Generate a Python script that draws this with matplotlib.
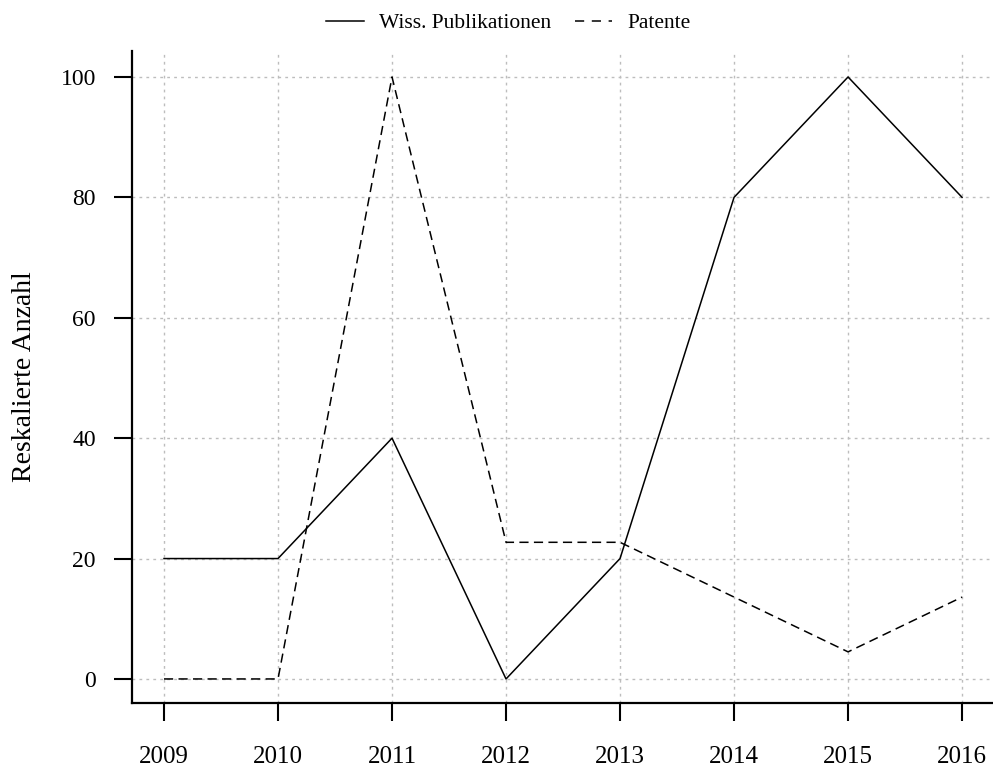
import matplotlib.pyplot as plt
from matplotlib.lines import Line2D

# data
years = [2009, 2010, 2011, 2012, 2013, 2014, 2015, 2016]
publikationen = [20, 20, 40, 0, 20, 80, 100, 80]
patente = [0, 0, 100, 22.7, 22.7, 13.6, 4.5, 13.6]
y_ticks = [0, 20, 40, 60, 80, 100]

plt.rcParams['font.family'] = ['Liberation Serif', 'DejaVu Serif']

fig = plt.figure(figsize=(9.93, 7.67), dpi=100)
ax = fig.add_axes([0.133, 0.0834, 0.868, 0.85])

# dotted grey grid like the R original
for yr in years:
    ax.axvline(yr, color='#bdbdbd', linestyle=(0, (2, 3)), linewidth=1, zorder=0)
for yv in y_ticks:
    ax.axhline(yv, color='#bdbdbd', linestyle=(0, (2, 3)), linewidth=1, zorder=0)

ax.plot(years, publikationen, color='black', linewidth=1.1, linestyle='-')
ax.plot(years, patente, color='black', linewidth=1.1, linestyle=(0, (6, 3.5)))

ax.set_xlim(2008.72, 2016.28)
ax.set_ylim(-4.0, 104.3)
ax.set_xticks(years)
ax.set_yticks(y_ticks)
ax.set_xticklabels([str(y) for y in years], fontsize=18)
ax.set_yticklabels([str(v) for v in y_ticks], fontsize=17)
ax.tick_params(axis='both', direction='out', length=13, width=1.5)
ax.tick_params(axis='x', pad=18)
ax.tick_params(axis='y', pad=13)

for side in ['top', 'right']:
    ax.spines[side].set_visible(False)
for side in ['left', 'bottom']:
    ax.spines[side].set_linewidth(1.6)

ax.set_ylabel('Reskalierte Anzahl', fontsize=20)
ax.yaxis.set_label_coords(-0.110, 0.5)

legend_elems = [
    Line2D([0], [0], color='black', linewidth=1.1, linestyle='-', label='Wiss. Publikationen'),
    Line2D([0], [0], color='black', linewidth=1.1, linestyle=(0, (6, 5)), label='Patente'),
]
fig.legend(handles=legend_elems, loc='upper center', bbox_to_anchor=(0.512, 1.008),
           ncol=2, frameon=False, fontsize=15.5, handlelength=1.75,
           handletextpad=0.7, columnspacing=1.1)

fig.savefig('out.png', dpi=100)
